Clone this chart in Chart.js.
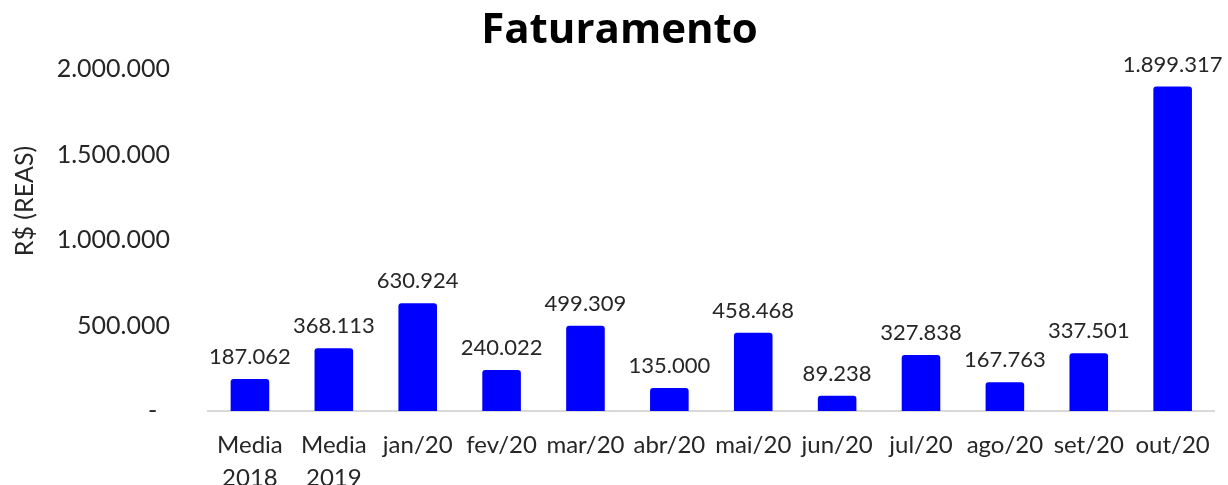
<!DOCTYPE html>
<html>
<head>
<meta charset="utf-8">
<script src="https://cdn.jsdelivr.net/npm/chart.js@4/dist/chart.umd.min.js"></script>
<style>
html,body{margin:0;padding:0;background:#fff;}
#wrap{width:1228px;height:485px;position:relative;}
</style>
</head>
<body>
<div id="wrap"><canvas id="c" width="1228" height="485"></canvas></div>
<script>
const categories = [['Media','2018'],['Media','2019'],'jan/20','fev/20','mar/20','abr/20','mai/20','jun/20','jul/20','ago/20','set/20','out/20'];
const faturamento = [187062,368113,630924,240022,499309,135000,458468,89238,327838,167763,337501,1899317];
const yTicks = [0,500000,1000000,1500000,2000000];
const titleText = 'Faturamento';
const yTitleText = 'R$ (REAS)';

function fmt(v){
  if (v === 0) return '-  ';
  return String(v).replace(/\B(?=(\d{3})+(?!\d))/g, '.');
}

const labelPlugin = {
  id: 'barLabels',
  afterDatasetsDraw(chart){
    const ctx = chart.ctx;
    const meta = chart.getDatasetMeta(0);
    ctx.save();
    ctx.font = '22px Lato';
    ctx.fillStyle = '#262626';
    ctx.textAlign = 'center';
    ctx.textBaseline = 'alphabetic';
    meta.data.forEach((bar, i) => {
      ctx.fillText(fmt(chart.data.datasets[0].data[i]), bar.x, bar.y - 15);
    });
    ctx.restore();
  }
};

const yTitlePlugin = {
  id: 'yTitle',
  afterDraw(chart){
    const ctx = chart.ctx;
    ctx.save();
    ctx.translate(25, 201);
    ctx.rotate(-Math.PI/2);
    ctx.font = '25px Lato';
    ctx.fillStyle = '#262626';
    ctx.textAlign = 'center';
    ctx.textBaseline = 'middle';
    ctx.fillText(yTitleText, 0, 0);
    ctx.restore();
  }
};

new Chart(document.getElementById('c'), {
  type: 'bar',
  data: {
    labels: categories,
    datasets: [{
      data: faturamento,
      backgroundColor: '#0000ff',
      borderRadius: 3,
      borderSkipped: 'bottom',
      categoryPercentage: 1,
      barPercentage: 0.46
    }]
  },
  options: {
    responsive: false,
    animation: false,
    layout: { padding: { left: 16, right: 5, top: 0, bottom: 0 } },
    plugins: {
      legend: { display: false },
      tooltip: { enabled: false },
      title: {
        display: true,
        text: titleText,
        color: '#000000',
        font: { family: 'Open Sans', size: 42, weight: 'bold', lineHeight: 1.2 },
        padding: { top: 6, bottom: 13 }
      }
    },
    scales: {
      x: {
        grid: { display: false, drawTicks: false },
        border: { display: true, color: '#d9d9d9', width: 2 },
        ticks: {
          color: '#262626',
          font: { family: 'Lato', size: 24, lineHeight: 1.375 },
          padding: 18,
          maxRotation: 0,
          autoSkip: false
        },
        afterFit(scale){ scale.height = 74; }
      },
      y: {
        min: 0,
        max: 2000000,
        afterBuildTicks(scale){ scale.ticks = yTicks.map(v => ({ value: v })); },
        grid: { display: false, drawTicks: false },
        border: { display: false },
        ticks: {
          color: '#262626',
          font: { family: 'Lato', size: 25 },
          padding: 38,
          callback: v => fmt(v)
        },
        afterFit(scale){ scale.width = 192; }
      }
    }
  },
  plugins: [labelPlugin, yTitlePlugin]
});
</script>
</body>
</html>
